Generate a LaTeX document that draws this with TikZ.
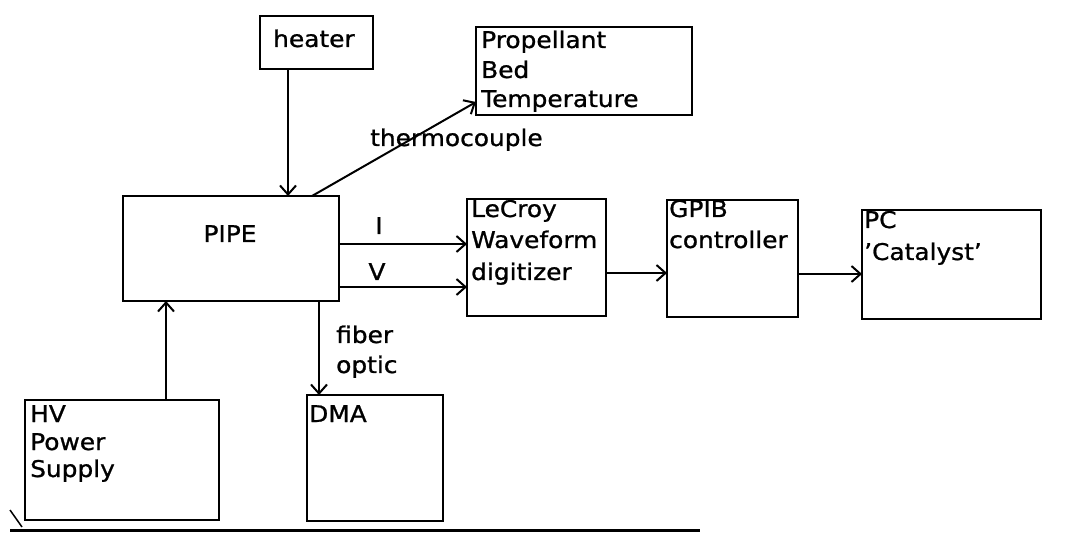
\documentclass[tikz,border=0pt]{standalone}
\usepackage{fontspec}
\newfontfamily\plotfont[FakeStretch=1.08,FakeBold=1]{DejaVu Sans}
\usetikzlibrary{arrows.meta}
\begin{document}
\begin{tikzpicture}[x=1pt,y=-1pt,
  box/.style={draw, line width=2pt, inner sep=0pt, outer sep=0pt, anchor=north west},
  txt/.style={font=\plotfont\fontsize{23}{30}\selectfont, inner sep=0pt, anchor=base west},
  conn/.style={line width=2pt, -{Straight Barb[length=9pt,width=16pt,line width=2pt]}}
]
\useasboundingbox (0,0) rectangle (1065,534);

% boxes
\node[box, minimum width=113pt, minimum height=53pt] (heater) at (260,16) {};
\node[box, minimum width=216pt, minimum height=88pt] (prop) at (476,27) {};
\node[box, minimum width=216pt, minimum height=105pt] (pipe) at (123,196) {};
\node[box, minimum width=139pt, minimum height=117pt] (lecroy) at (467,199) {};
\node[box, minimum width=131pt, minimum height=117pt] (gpib) at (667,200) {};
\node[box, minimum width=179pt, minimum height=109pt] (pc) at (862,210) {};
\node[box, minimum width=194pt, minimum height=120pt] (hv) at (25,400) {};
\node[box, minimum width=136pt, minimum height=126pt] (dma) at (307,395) {};

% texts
\node[txt] (theater) at (273,47) {heater};
\node[txt] (tprop1) at (481,48) {Propellant};
\node[txt] (tprop2) at (481,78) {Bed};
\node[txt] (tprop3) at (481,107) {Temperature};
\node[txt, anchor=base] (tpipe) at (230,242) {PIPE};
\node[txt] (tlec1) at (471,217) {LeCroy};
\node[txt] (tlec2) at (471,248) {Waveform};
\node[txt] (tlec3) at (471,280) {digitizer};
\node[txt] (tgpib1) at (669,217) {GPIB};
\node[txt] (tgpib2) at (669,248) {controller};
\node[txt] (tpc1) at (864,228) {PC};
\node[txt] (tpc2) at (864,260) {’Catalyst’};
\node[txt] (thv1) at (30,422) {HV};
\node[txt] (thv2) at (30,450) {Power};
\node[txt] (thv3) at (30,477) {Supply};
\node[txt] (tdma) at (309,422) {DMA};

% connector labels
\node[txt] (lthermo) at (370,146) {thermocouple};
\node[txt, anchor=base] (lI) at (379,234) {I};
\node[txt, anchor=base] (lV) at (377,280) {V};
\node[txt] (lfib1) at (336,343) {fiber};
\node[txt] (lfib2) at (336,373) {optic};

% connectors
\draw[conn] ([xshift=28pt]heater.south west) -- ([xshift=165pt]pipe.north west);
\draw[conn] ([xshift=189pt]pipe.north west) -- ([yshift=-75pt]prop.north west);
\draw[conn] ([yshift=-48pt]pipe.north east) -- ([yshift=-48pt]pipe.north east -| lecroy.west);
\draw[conn] ([yshift=-91pt]pipe.north east) -- ([yshift=-91pt]pipe.north east -| lecroy.west);
\draw[conn] ([yshift=-74pt]lecroy.north east) -- ([yshift=-74pt]lecroy.north east -| gpib.west);
\draw[conn] ([yshift=-74pt]gpib.north east) -- ([yshift=-74pt]gpib.north east -| pc.west);
\draw[conn] ([xshift=141pt]hv.north west) -- ([xshift=141pt]hv.north west |- pipe.south);
\draw[conn] ([xshift=196pt]pipe.south west) -- ([xshift=196pt]pipe.south west |- dma.north);

% bottom rule
\draw[line width=3pt] (10,530) -- (700,530);
\draw[line width=1.5pt] (10,510) -- (22,527);
\end{tikzpicture}
\end{document}
